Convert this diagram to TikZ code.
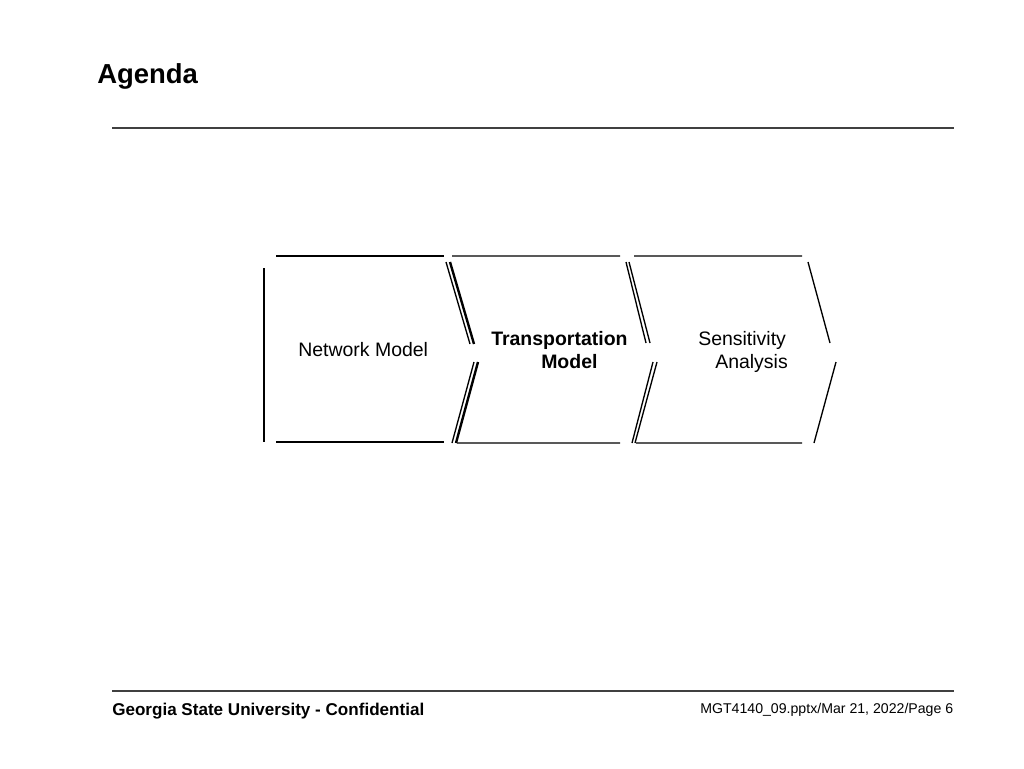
\documentclass[tikz,border=0pt]{standalone}
\usepackage{fontspec}
\setmainfont{Liberation Sans}
\usepackage{tikz}
\definecolor{rule gray}{rgb}{0.25, 0.25, 0.25}

\begin{document}
\begin{tikzpicture}[x=0.75pt, y=-0.75pt,
		heavy/.style={line width=2.1pt},
		light/.style={line width=1pt},
		label/.style={inner sep=0pt, anchor=base west}]
		\useasboundingbox[fill=white] (0, 0) rectangle (1024, 768);
		% title and rules
		\node[label, font=\bfseries\fontsize{20.6}{24}\selectfont] (title) at (97, 83) {Agenda};
		\draw[rule gray, line width=1.5pt] (112, 128) -- (954, 128);
		\draw[rule gray, line width=1.5pt] (112, 691) -- (954, 691);
		% part for network model
		\draw[heavy]
			(264, 268) -- (264, 442)
			(276, 256) -- (444, 256)
			(276, 442) -- (444, 442);
		\draw[line width=1.8pt]
			(450, 262) -- (474, 344)
			(456, 443) -- (478, 362);
		% part for transportation model
		\draw[light]
			(446, 262) -- (470, 344)
			(452, 443) -- (474, 362);
		\draw[light]
			(452, 256) -- (620, 256)
			(457, 443) -- (620, 443)
			(626, 262) -- (646, 343)
			(632, 443) -- (653, 362);
		% part for sensitivity analysis
		\draw[light]
			(629, 262) -- (650, 343)
			(635, 443) -- (657, 362)
			(634, 256) -- (802, 256)
			(636, 443) -- (802, 443)
			(808, 262) -- (830, 343)
			(814, 443) -- (836, 362);
		% labels
		\node[label, font=\fontsize{14.6}{17}\selectfont] (network) at (298, 356) {Network Model};
		\node[label, font=\bfseries\fontsize{14.6}{17}\selectfont] (transport) at (491, 345) {Transportation};
		\node[label, font=\bfseries\fontsize{14.6}{17}\selectfont] (model) at (541, 368) {Model};
		\node[label, font=\fontsize{14.6}{17}\selectfont] (sensitivity) at (698, 345) {Sensitivity};
		\node[label, font=\fontsize{14.6}{17}\selectfont] (analysis) at (715, 368) {Analysis};
		% footer
		\node[label, font=\bfseries\fontsize{12.8}{15}\selectfont] (school) at (112, 715) {Georgia State University - Confidential};
		\node[label, font=\fontsize{10.6}{13}\selectfont] (page) at (700, 713) {MGT4140\_09.pptx/Mar 21, 2022/Page 6};
	\end{tikzpicture}
\end{document}
